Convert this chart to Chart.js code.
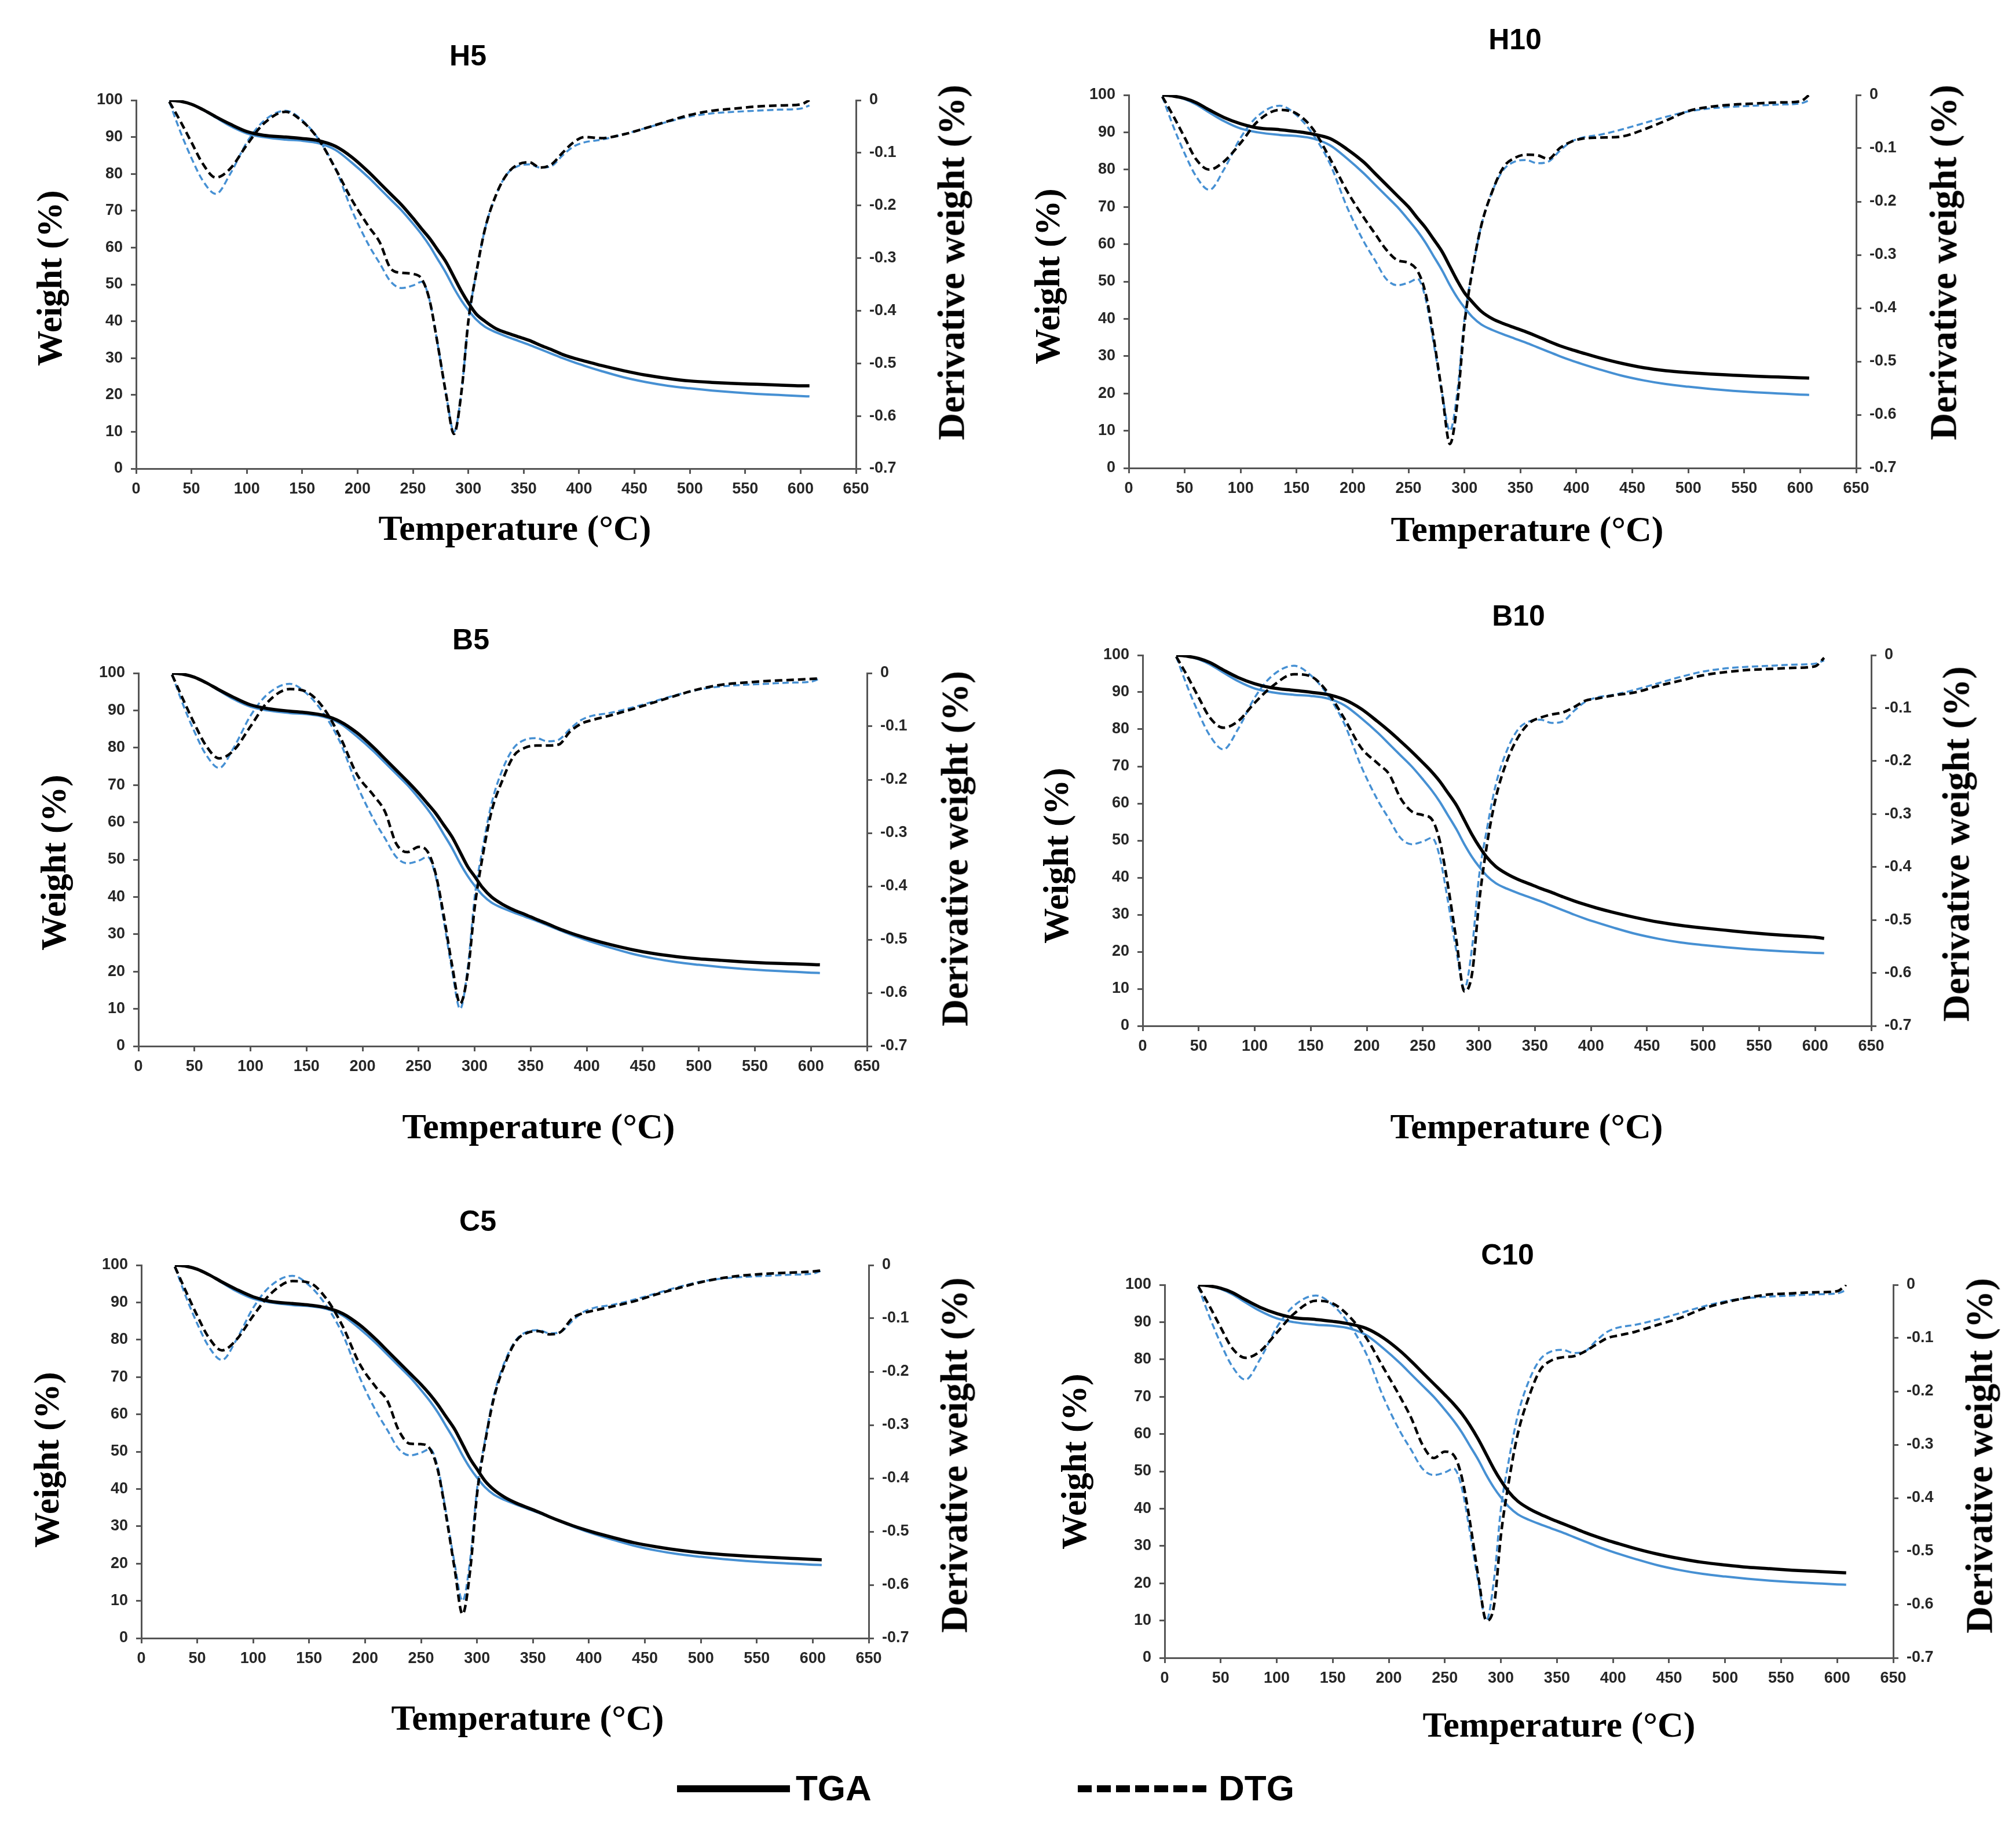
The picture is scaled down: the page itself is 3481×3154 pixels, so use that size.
<!DOCTYPE html>
<html>
<head>
<meta charset="utf-8">
<script src="https://cdn.jsdelivr.net/npm/chart.js@4.4.1/dist/chart.umd.min.js"></script>
<style>
  html, body { margin: 0; padding: 0; background: #fff; }
  body { width: 3481px; height: 3154px; position: relative; overflow: hidden; }
  canvas { position: absolute; }
  .lbl { position: absolute; white-space: nowrap; line-height: 1; color: #000; transform: translate(-50%, -50%); }
  .ptitle { font: bold 50px "Liberation Sans", Arial, sans-serif; }
  .wtitle { font: bold 61px "Liberation Serif", serif; transform: translate(-50%, -50%) rotate(-90deg); }
  .dtitle { font: bold 65px "Liberation Serif", serif; transform: translate(-50%, -50%) rotate(-90deg); }
  .xtitle { font: bold 62px "Liberation Serif", serif; }
  .legtext { position: absolute; font: bold 62px "Liberation Sans", Arial, sans-serif; line-height: 1; transform: translateY(-50%); }
  .legline { position: absolute; height: 12px; }
</style>
</head>
<body>
<script>
// temperature grid (°C) shared by every curve
const temperature = [30, 40, 50, 60, 72, 85, 100, 115, 135, 150, 165, 180, 195, 210, 220, 230, 240, 250, 258, 265,
  272, 280, 287, 294, 300, 307, 315, 325, 335, 345, 355, 365, 375, 385, 395, 405, 420, 440, 460, 480,
  500, 520, 540, 560, 580, 600, 608];

const tempTicks = [0, 50, 100, 150, 200, 250, 300, 350, 400, 450, 500, 550, 600, 650];
const weightTicks = [0, 10, 20, 30, 40, 50, 60, 70, 80, 90, 100];
const derivTicks = [-0.7, -0.6, -0.5, -0.4, -0.3, -0.2, -0.1, 0];

// blue curves (same reference sample in all panels)
const controlTGA = [100, 99.7, 98.9, 97.5, 95.3, 93, 91, 90, 89.3, 89, 88.3, 86.5, 83, 79, 76, 73, 70, 66.5, 63.5, 60.5,
  57, 53, 49, 45.5, 43, 40.5, 38.5, 37, 35.8, 34.7, 33.6, 32.4, 31.2, 30, 28.9, 27.9, 26.5, 24.8, 23.5, 22.5,
  21.8, 21.2, 20.7, 20.3, 20, 19.7, 19.6];
const controlDTG = [-0.003, -0.06, -0.11, -0.152, -0.178, -0.14, -0.08, -0.04, -0.02, -0.038, -0.075, -0.13, -0.21, -0.275, -0.31, -0.345, -0.357, -0.352, -0.345, -0.38,
  -0.46, -0.56, -0.63, -0.55, -0.42, -0.33, -0.245, -0.18, -0.14, -0.125, -0.122, -0.128, -0.125, -0.105, -0.088, -0.08, -0.075, -0.065, -0.053, -0.041,
  -0.031, -0.025, -0.022, -0.02, -0.018, -0.016, -0.01];

// black curves, one pair per sample
const h5TGA = [100, 99.7, 98.9, 97.5, 95.5, 93.5, 91.5, 90.5, 90, 89.6, 89, 87.5, 84.5, 80.5, 77.5, 74.5, 71.5, 68, 65, 62.5,
  59.5, 56, 52, 48, 45, 42, 40, 38, 36.8, 35.8, 34.8, 33.5, 32.3, 31, 30, 29.2, 28, 26.6, 25.4, 24.5,
  23.8, 23.4, 23.1, 22.9, 22.7, 22.5, 22.5];
const h5DTG = [-0.003, -0.04, -0.08, -0.12, -0.147, -0.13, -0.085, -0.045, -0.022, -0.04, -0.075, -0.13, -0.19, -0.24, -0.27, -0.32, -0.328, -0.33, -0.34, -0.38,
  -0.46, -0.56, -0.634, -0.55, -0.42, -0.33, -0.245, -0.18, -0.14, -0.122, -0.118, -0.128, -0.122, -0.1, -0.08, -0.07, -0.072, -0.065, -0.053, -0.04,
  -0.028, -0.02, -0.016, -0.012, -0.01, -0.008, 0];

const h10TGA = [100, 99.7, 99.1, 98, 96, 94, 92.3, 91.2, 90.7, 90.2, 89.5, 88.3, 85.5, 82, 79, 76, 73, 70, 67, 64.5,
  61.5, 58, 54, 50, 47, 44.5, 42, 40, 38.7, 37.6, 36.5, 35.3, 34, 32.8, 31.8, 30.9, 29.6, 28.1, 26.9, 26.1,
  25.6, 25.2, 24.9, 24.6, 24.4, 24.2, 24.1];
const h10DTG = [-0.003, -0.04, -0.08, -0.12, -0.14, -0.125, -0.09, -0.05, -0.028, -0.035, -0.065, -0.12, -0.18, -0.23, -0.26, -0.29, -0.31, -0.315, -0.33, -0.37,
  -0.45, -0.56, -0.655, -0.57, -0.43, -0.33, -0.245, -0.18, -0.135, -0.118, -0.112, -0.113, -0.12, -0.1, -0.088, -0.082, -0.08, -0.078, -0.065, -0.048,
  -0.03, -0.022, -0.018, -0.016, -0.014, -0.012, 0];

const b5TGA = [100, 99.7, 98.9, 97.5, 95.5, 93.5, 91.5, 90.5, 89.8, 89.4, 88.7, 87, 84, 80, 77, 74, 71, 67.8, 65, 62.5,
  59.5, 56, 52, 48, 45.5, 42.5, 40, 38, 36.5, 35.3, 34, 32.8, 31.5, 30.4, 29.4, 28.5, 27.3, 25.9, 24.8, 24,
  23.4, 23, 22.6, 22.3, 22.1, 21.9, 21.8];
const b5DTG = [-0.003, -0.05, -0.095, -0.135, -0.16, -0.145, -0.1, -0.055, -0.03, -0.035, -0.065, -0.12, -0.19, -0.23, -0.26, -0.32, -0.336, -0.326, -0.335, -0.375,
  -0.45, -0.55, -0.62, -0.56, -0.44, -0.345, -0.26, -0.2, -0.155, -0.14, -0.136, -0.136, -0.134, -0.11, -0.095, -0.088, -0.08, -0.068, -0.055, -0.042,
  -0.03, -0.022, -0.018, -0.015, -0.013, -0.011, -0.01];

const b10TGA = [100, 99.7, 99.1, 98, 96, 94, 92.3, 91.2, 90.5, 90, 89.4, 88, 85.5, 82, 79.5, 76.8, 74, 71, 68.5, 66,
  63, 59.5, 55.5, 51.5, 48.5, 45.5, 43, 41, 39.5, 38.3, 37.1, 36, 34.8, 33.7, 32.7, 31.8, 30.6, 29.2, 28, 27.1,
  26.4, 25.8, 25.2, 24.7, 24.3, 23.9, 23.6];
const b10DTG = [-0.003, -0.04, -0.08, -0.118, -0.137, -0.125, -0.09, -0.06, -0.036, -0.04, -0.07, -0.12, -0.175, -0.205, -0.225, -0.27, -0.295, -0.302, -0.31, -0.35,
  -0.43, -0.54, -0.635, -0.6, -0.47, -0.36, -0.27, -0.2, -0.155, -0.128, -0.118, -0.112, -0.108, -0.098, -0.086, -0.082, -0.076, -0.07, -0.058, -0.048,
  -0.038, -0.032, -0.028, -0.026, -0.024, -0.021, -0.005];

const c5TGA = [100, 99.7, 98.9, 97.5, 95.5, 93.5, 91.5, 90.3, 89.7, 89.3, 88.6, 87, 84, 80, 77, 74, 71, 68, 65.3, 62.6,
  59.5, 56, 52, 48, 45.3, 42.2, 39.8, 37.7, 36.2, 35, 33.8, 32.5, 31.3, 30.2, 29.2, 28.3, 27.1, 25.6, 24.5, 23.6,
  22.9, 22.4, 22, 21.7, 21.4, 21.1, 21];
const c5DTG = [-0.003, -0.05, -0.095, -0.135, -0.16, -0.14, -0.095, -0.055, -0.03, -0.033, -0.062, -0.115, -0.185, -0.23, -0.255, -0.31, -0.335, -0.336, -0.345, -0.385,
  -0.465, -0.57, -0.655, -0.57, -0.43, -0.335, -0.25, -0.185, -0.142, -0.127, -0.124, -0.13, -0.125, -0.1, -0.09, -0.085, -0.078, -0.068, -0.055, -0.043,
  -0.032, -0.024, -0.019, -0.016, -0.014, -0.012, -0.01];

const c10TGA = [100, 99.7, 99.1, 98, 96, 94, 92.3, 91.2, 90.7, 90.2, 89.5, 88.3, 85.8, 82.3, 79.5, 76.5, 73.5, 70.5, 68, 65.5,
  62.5, 58.5, 54.5, 50.5, 47.5, 44.5, 42, 40, 38.5, 37.2, 36, 34.8, 33.6, 32.5, 31.5, 30.6, 29.3, 27.8, 26.6, 25.6,
  24.9, 24.3, 23.9, 23.5, 23.2, 22.9, 22.8];
const c10DTG = [-0.003, -0.04, -0.08, -0.118, -0.137, -0.125, -0.09, -0.055, -0.03, -0.035, -0.06, -0.1, -0.155, -0.21, -0.25, -0.3, -0.325, -0.313, -0.32, -0.36,
  -0.44, -0.55, -0.63, -0.6, -0.47, -0.37, -0.28, -0.21, -0.16, -0.142, -0.136, -0.134, -0.125, -0.112, -0.1, -0.095, -0.088, -0.075, -0.062, -0.045,
  -0.033, -0.024, -0.018, -0.016, -0.014, -0.012, 0];

const BLUE = "#4690d3";
const AXIS = "#555555";
const TICK_FONT = { family: '"Liberation Sans", Arial, sans-serif', size: 27, weight: "bold" };

// plot-area edges (L, R, T, B) and label anchors for each panel
const panels = [
  { name: "H5",  tga: h5TGA,  dtg: h5DTG,  L: 235,  R: 1478, T: 173,  B: 809,  title: [808, 96],    wt: [86, 480],    dt: [1643, 453],  xt: [889, 911] },
  { name: "H10", tga: h10TGA, dtg: h10DTG, L: 1949, R: 3205, T: 164,  B: 808,  title: [2616, 68],   wt: [1809, 477],  dt: [3356, 453],  xt: [2637, 913] },
  { name: "B5",  tga: b5TGA,  dtg: b5DTG,  L: 239,  R: 1497, T: 1162, B: 1806, title: [813, 1104],  wt: [93, 1489],   dt: [1649, 1465], xt: [930, 1944] },
  { name: "B10", tga: b10TGA, dtg: b10DTG, L: 1973, R: 3231, T: 1131, B: 1771, title: [2622, 1063], wt: [1824, 1477], dt: [3378, 1457], xt: [2636, 1944] },
  { name: "C5",  tga: c5TGA,  dtg: c5DTG,  L: 244,  R: 1500, T: 2184, B: 2828, title: [825, 2108],  wt: [81, 2520],   dt: [1648, 2512], xt: [911, 2965] },
  { name: "C10", tga: c10TGA, dtg: c10DTG, L: 2011, R: 3269, T: 2218, B: 2862, title: [2603, 2166], wt: [1855, 2523], dt: [3418, 2513], xt: [2692, 2977] },
];

function pts(ys) {
  return temperature.map((t, i) => ({ x: t, y: ys[i] }));
}

function label(cls, text, pos) {
  const d = document.createElement("div");
  d.className = "lbl " + cls;
  d.textContent = text;
  d.style.left = pos[0] + "px";
  d.style.top = pos[1] + "px";
  document.body.appendChild(d);
}

function axisOpts(ticks, extra) {
  return Object.assign({
    afterBuildTicks: (s) => { s.ticks = ticks.map((v) => ({ value: v })); },
    ticks: { font: TICK_FONT, color: "#262626", padding: 14, maxRotation: 0, autoSkip: false },
    grid: { drawOnChartArea: false, drawTicks: true, tickLength: 9, color: AXIS, lineWidth: 3 },
    border: { display: true, color: AXIS, width: 3 },
  }, extra);
}

function makePanel(p) {
  // the vertical axes ask for ~31px above the plot (half a label + padding), so keep padT above that
  const padL = 90, padR = 130, padT = 40, padB = 80;
  const w = p.R - p.L + padL + padR;
  const h = p.B - p.T + padT + padB;
  const cv = document.createElement("canvas");
  cv.width = w;
  cv.height = h;
  cv.style.left = (p.L - padL) + "px";
  cv.style.top = (p.T - padT) + "px";
  cv.style.width = w + "px";
  cv.style.height = h + "px";
  document.body.appendChild(cv);

  new Chart(cv, {
    type: "line",
    data: {
      datasets: [
        { label: p.name + " TGA", data: pts(p.tga), yAxisID: "y", borderColor: "#000", borderWidth: 5.5, order: 0 },
        { label: p.name + " DTG", data: pts(p.dtg), yAxisID: "y1", borderColor: "#000", borderWidth: 4.5, borderDash: [13, 7], order: 1 },
        { label: "TGA", data: pts(controlTGA), yAxisID: "y", borderColor: BLUE, borderWidth: 4, order: 2 },
        { label: "DTG", data: pts(controlDTG), yAxisID: "y1", borderColor: BLUE, borderWidth: 3.5, borderDash: [11, 6], order: 3 },
      ],
    },
    options: {
      responsive: false,
      animation: false,
      devicePixelRatio: 1,
      layout: { padding: { top: padT, left: 0, right: 0, bottom: 0 } },
      plugins: { legend: { display: false }, tooltip: { enabled: false }, title: { display: false } },
      elements: {
        point: { radius: 0 },
        line: { cubicInterpolationMode: "monotone", fill: false, borderCapStyle: "butt" },
      },
      scales: {
        x: axisOpts(tempTicks, {
          type: "linear", position: "bottom", min: 0, max: 650,
          afterFit: (s) => { s.height = padB; },
          ticks: { font: TICK_FONT, color: "#262626", padding: 10, maxRotation: 0, autoSkip: false },
        }),
        y: axisOpts(weightTicks, {
          type: "linear", position: "left", min: 0, max: 100,
          afterFit: (s) => { s.width = padL; },
        }),
        y1: axisOpts(derivTicks, {
          type: "linear", position: "right", min: -0.7, max: 0,
          afterFit: (s) => { s.width = padR; },
          ticks: {
            font: TICK_FONT, color: "#262626", padding: 14, autoSkip: false,
            callback: (v) => (Math.abs(v) < 1e-9 ? "0" : Number(v).toFixed(1)),
          },
        }),
      },
    },
  });

  label("ptitle", p.name, p.title);
  label("wtitle", "Weight (%)", p.wt);
  label("dtitle", "Derivative weight (%)", p.dt);
  label("xtitle", "Temperature (°C)", p.xt);
}

panels.forEach(makePanel);

// shared legend at the bottom
function legendLine(left, width, bg) {
  const d = document.createElement("div");
  d.className = "legline";
  d.style.left = left + "px";
  d.style.top = "3082px";
  d.style.width = width + "px";
  d.style.background = bg;
  document.body.appendChild(d);
}
function legendText(left, text) {
  const d = document.createElement("div");
  d.className = "legtext";
  d.textContent = text;
  d.style.left = left + "px";
  d.style.top = "3087px";
  document.body.appendChild(d);
}
legendLine(1169, 195, "#000");
legendText(1374, "TGA");
legendLine(1861, 222, "repeating-linear-gradient(90deg, #000 0 24px, transparent 24px 33px)");
legendText(2104, "DTG");
</script>
</body>
</html>
